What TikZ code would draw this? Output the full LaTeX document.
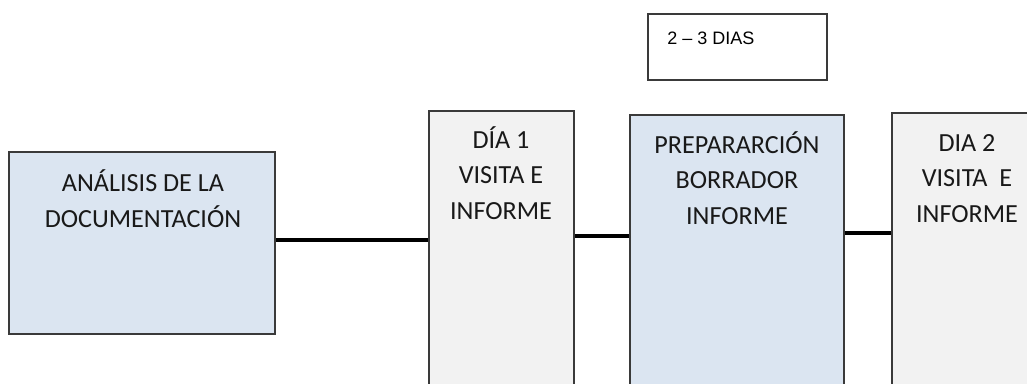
\documentclass[tikz,border=0pt]{standalone}
\usepackage{fontspec}
\setmainfont{Carlito}
\newfontfamily\arialfont{Liberation Sans}
\usetikzlibrary{positioning}

\definecolor{boxblue}{HTML}{DBE5F1}
\definecolor{boxgray}{HTML}{F2F2F2}
\definecolor{boxline}{HTML}{3A3A3A}

\tikzset{
  stage/.style={draw=boxline, line width=1.5pt, inner sep=0pt},
  bluestage/.style={stage, fill=boxblue},
  graystage/.style={stage, fill=boxgray},
  stagetext/.style={font=\fontsize{19.6}{26.5}\selectfont, align=center, text=black!90, inner sep=0pt, anchor=base},
  link/.style={line width=3.5pt, black}
}

\begin{document}
\begin{tikzpicture}[x=0.75pt, y=-0.75pt]
  \useasboundingbox (0,0) rectangle (1027,383);
  \clip (0,0) rectangle (1027,383);

  % stages
  \node[bluestage, minimum width=199.5pt, minimum height=136.5pt] (docs) at (142,243) {};
  \node[graystage, minimum width=108.75pt, minimum height=216.75pt] (dia1) at (501.5,255.5) {};
  \node[bluestage, minimum width=160.5pt, minimum height=213.75pt] (borrador) at (737,257.5) {};
  \node[graystage, minimum width=126pt, minimum height=215.25pt] (dia2) at (976,256.5) {};

  % duration note
  \node[stage, fill=white, minimum width=134.25pt, minimum height=49.5pt] (dias) at (737.5,47) {};
  \node[font=\arialfont\fontsize{13.5}{16}\selectfont, inner sep=0pt, anchor=base west] (diastext) at (667,44) {2 – 3 DIAS};

  % texts (base = last line)
  \node[stagetext] (docstext) at (143,227) {ANÁLISIS DE LA\\DOCUMENTACIÓN};
  \node[stagetext] (dia1text) at (501,219) {DÍA 1\\VISITA E\\INFORME};
  \node[stagetext] (borradortext) at (737,224) {PREPARARCIÓN\\BORRADOR\\INFORME};
  \node[stagetext] (dia2text) at (967,222) {DIA 2\\VISITA~~E\\INFORME};

  % links
  \draw[link] ([yshift=2.25pt]docs.east) -- ([yshift=2.25pt]docs.east -| dia1.west);
  \draw[link] ([yshift=14.6pt]dia1.east) -- ([yshift=14.6pt]dia1.east -| borrador.west);
  \draw[link] ([yshift=18.4pt]borrador.east) -- ([yshift=18.4pt]borrador.east -| dia2.west);
\end{tikzpicture}
\end{document}
